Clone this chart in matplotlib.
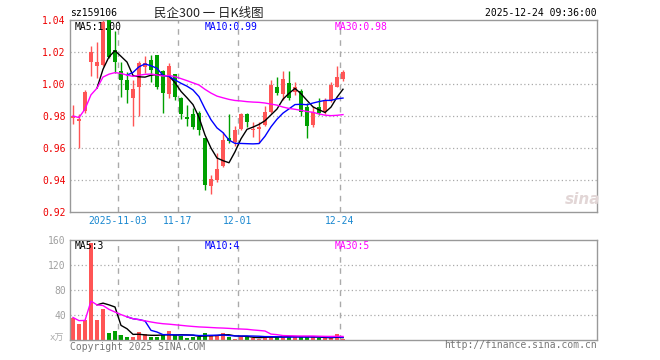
import matplotlib
matplotlib.use('Agg')
import matplotlib.pyplot as plt
import pandas as pd

symbol = 'sz159106'
title = '民企300 一 日K线图'
timestamp = '2025-12-24 09:36:00'

opens = [0.979, 0.977, 0.983, 1.014, 1.011, 1.012, 1.040, 1.021, 1.008, 1.0025,
         0.991, 0.998, 1.0105, 1.015, 1.018, 1.008, 0.994, 1.006, 0.991, 0.9796,
         0.981, 0.9817, 0.966, 0.9365, 0.940, 0.949, 0.966, 0.964, 0.972, 0.981,
         0.971, 0.9717, 0.9744, 0.9827, 0.9983, 0.994, 1.0004, 0.9952, 0.9958, 0.9858,
         0.9744, 0.9858, 0.9827, 0.990, 0.9983, 1.003]
closes = [0.980, 0.978, 0.995, 1.020, 1.014, 1.039, 1.017, 1.014, 1.0025, 0.996,
          0.997, 1.013, 1.013, 1.0085, 0.998, 0.9946, 1.011, 0.992, 0.9813, 0.978,
          0.9733, 0.971, 0.937, 0.9404, 0.947, 0.965, 0.9645, 0.9713, 0.981, 0.9765,
          0.972, 0.973, 0.9827, 0.9994, 0.9946, 1.003, 0.991, 0.9983, 0.9827, 0.9737,
          0.9827, 0.982, 0.990, 0.9994, 1.0046, 1.0077]
highs = [0.987, 0.981, 0.996, 1.024, 1.026, 1.041, 1.042, 1.033, 1.014, 1.0077,
         1.0025, 1.0146, 1.0175, 1.018, 1.018, 1.0085, 1.013, 1.0065, 0.992, 0.987,
         0.985, 0.983, 0.966, 0.943, 0.957, 0.970, 0.981, 0.974, 0.982, 0.982,
         0.9765, 0.976, 0.986, 1.0025, 1.0042, 1.008, 1.008, 1.0014, 0.997, 0.988,
         0.986, 0.991, 0.991, 1.001, 1.0112, 1.009]
lows = [0.975, 0.960, 0.982, 1.005, 1.004, 1.011, 1.016, 1.007, 0.992, 0.988,
        0.974, 0.980, 1.007, 1.001, 0.9967, 0.982, 0.991, 0.990, 0.978, 0.974,
        0.972, 0.968, 0.934, 0.931, 0.939, 0.948, 0.963, 0.961, 0.971, 0.973,
        0.967, 0.963, 0.974, 0.982, 0.993, 0.990, 0.990, 0.993, 0.980, 0.966,
        0.973, 0.9806, 0.981, 0.989, 0.998, 1.002]
volumes = [36, 26, 32, 155, 32, 50, 12, 15, 8, 5,
           5, 13, 9.6, 5, 5, 8, 14, 8, 7, 4,
           5.5, 5, 11, 8, 6.4, 11, 5.5, 2, 5.5, 5,
           4, 2, 5, 7, 5, 5.5, 5, 5, 5, 5,
           5, 3, 2.5, 2.5, 9.5, 1.5]

tick_idx = [8, 18, 28, 45]
tick_labels = ['2025-11-03', '11-17', '12-01', '12-24']
price_ticks = [0.92, 0.94, 0.96, 0.98, 1.00, 1.02, 1.04]
vol_ticks = [40, 80, 120, 160]
price_ma_labels = ['MA5:1.00', 'MA10:0.99', 'MA30:0.98']
vol_ma_labels = ['MA5:3', 'MA10:4', 'MA30:5']

RED = '#ff5555'
GREEN = '#00a000'
MONO = 'DejaVu Sans Mono'
FS = 7

W, H = 660, 360
fig = plt.figure(figsize=(6.6, 3.6), dpi=100)


def fx(px):
    return px / W


def fy(py):
    return 1 - py / H


ax = fig.add_axes([fx(70), fy(212), fx(597) - fx(70), fy(20) - fy(212)])
axv = fig.add_axes([fx(70), fy(340), fx(597) - fx(70), fy(240) - fy(340)])

n = len(closes)
xs = list(range(n))
xmax = -0.5 + 527 / 6

cs = pd.Series(closes)
ma5 = cs.rolling(5).mean()
ma10 = cs.rolling(10).mean()
ma30 = cs.rolling(30, min_periods=1).mean()
vs = pd.Series(volumes)
vma5 = vs.rolling(5).mean()
vma10 = vs.rolling(10).mean()
vma30 = vs.rolling(30, min_periods=1).mean()

colors = [RED if c >= o else GREEN for o, c in zip(opens, closes)]

# grids
for a, hl in ((ax, price_ticks[1:-1]), (axv, vol_ticks[:-1])):
    for v in hl:
        a.axhline(v, color='#aaaaaa', lw=0.9, ls=(0, (1, 2)), zorder=0)
    for t in tick_idx:
        a.axvline(t - 0.5, color='#aaaaaa', lw=1, ls=(0, (4, 4)), zorder=0)

# candles
ax.vlines(xs, lows, highs, colors=colors, lw=1, zorder=2)
bottoms = [min(o, c) for o, c in zip(opens, closes)]
heights = [max(abs(c - o), 0.0006) for o, c in zip(opens, closes)]
ax.bar(xs, heights, bottom=bottoms, width=0.78, color=colors, lw=0, zorder=3)

ax.plot(xs, ma5, color='black', lw=1, zorder=4)
ax.plot(xs, ma10, color='#0000ff', lw=1, zorder=4)
ax.plot(xs, ma30, color='#ff00ff', lw=1, zorder=4)

ax.set_xlim(-0.5, xmax)
ax.set_ylim(price_ticks[0], price_ticks[-1])
ax.set_yticks(price_ticks)
ax.set_yticklabels(['%.2f' % v for v in price_ticks], color='#ee0000',
                   fontsize=FS, family=MONO)
ax.set_xticks([])
ax.tick_params(axis='y', length=0, pad=3)

# volume
axv.bar(xs, volumes, width=0.78, color=colors, lw=0, zorder=2)
axv.plot(xs, vma5, color='black', lw=1, zorder=4)
axv.plot(xs, vma10, color='#0000ff', lw=1, zorder=4)
axv.plot(xs, vma30, color='#ff00ff', lw=1, zorder=4)
axv.set_xlim(-0.5, xmax)
axv.set_ylim(0, vol_ticks[-1])
axv.set_yticks(vol_ticks)
axv.set_yticklabels([str(v) for v in vol_ticks], color='#a0a0a0',
                    fontsize=FS, family=MONO)
axv.set_xticks([])
axv.tick_params(axis='y', length=0, pad=3)

for a in (ax, axv):
    for s in a.spines.values():
        s.set_color('#999999')
        s.set_linewidth(1)

# date labels
for t, lab in zip(tick_idx, tick_labels):
    xp = 70 + 6 * (t + 0.5) - 3
    fig.text(fx(xp), fy(221.5), lab, ha='center', va='center',
             color='#1a88d0', fontsize=FS, family=MONO)

# MA labels
ma_cols = ['black', '#0000ff', '#ff00ff']
for xp, lab, col in zip([75, 205, 335], price_ma_labels, ma_cols):
    fig.text(fx(xp), fy(26.5), lab, ha='left', va='center', color=col,
             fontsize=FS, family=MONO)
for xp, lab, col in zip([75, 205, 335], vol_ma_labels, ma_cols):
    fig.text(fx(xp), fy(246), lab, ha='left', va='center', color=col,
             fontsize=FS, family=MONO)

# header
fig.text(fx(70), fy(13), symbol, ha='left', va='center', color='black',
         fontsize=FS, family=MONO)
fig.text(fx(209), fy(13), title, ha='center', va='center', color='#222222',
         fontsize=9, family=['Noto Sans CJK SC', 'DejaVu Sans'])
fig.text(fx(597), fy(13), timestamp, ha='right', va='center', color='black',
         fontsize=FS, family=MONO)

# footer
fig.text(fx(64), fy(338), 'x万', ha='right', va='center', color='#aaaaaa',
         fontsize=6.5, family=['DejaVu Sans Mono', 'Noto Sans CJK SC'])
fig.text(fx(70), fy(346.5), 'Copyright 2025 SINA.COM', ha='left', va='center',
         color='#777777', fontsize=FS, family=MONO)
fig.text(fx(597), fy(345.5), 'http://finance.sina.com.cn', ha='right',
         va='center', color='#777777', fontsize=FS, family=MONO)

# watermark
fig.text(fx(583), fy(199), 'sina', ha='center', va='center', color='#e2d6d6',
         fontsize=11, fontweight='bold', style='italic', family='DejaVu Sans')

fig.savefig('out.png', dpi=100)
